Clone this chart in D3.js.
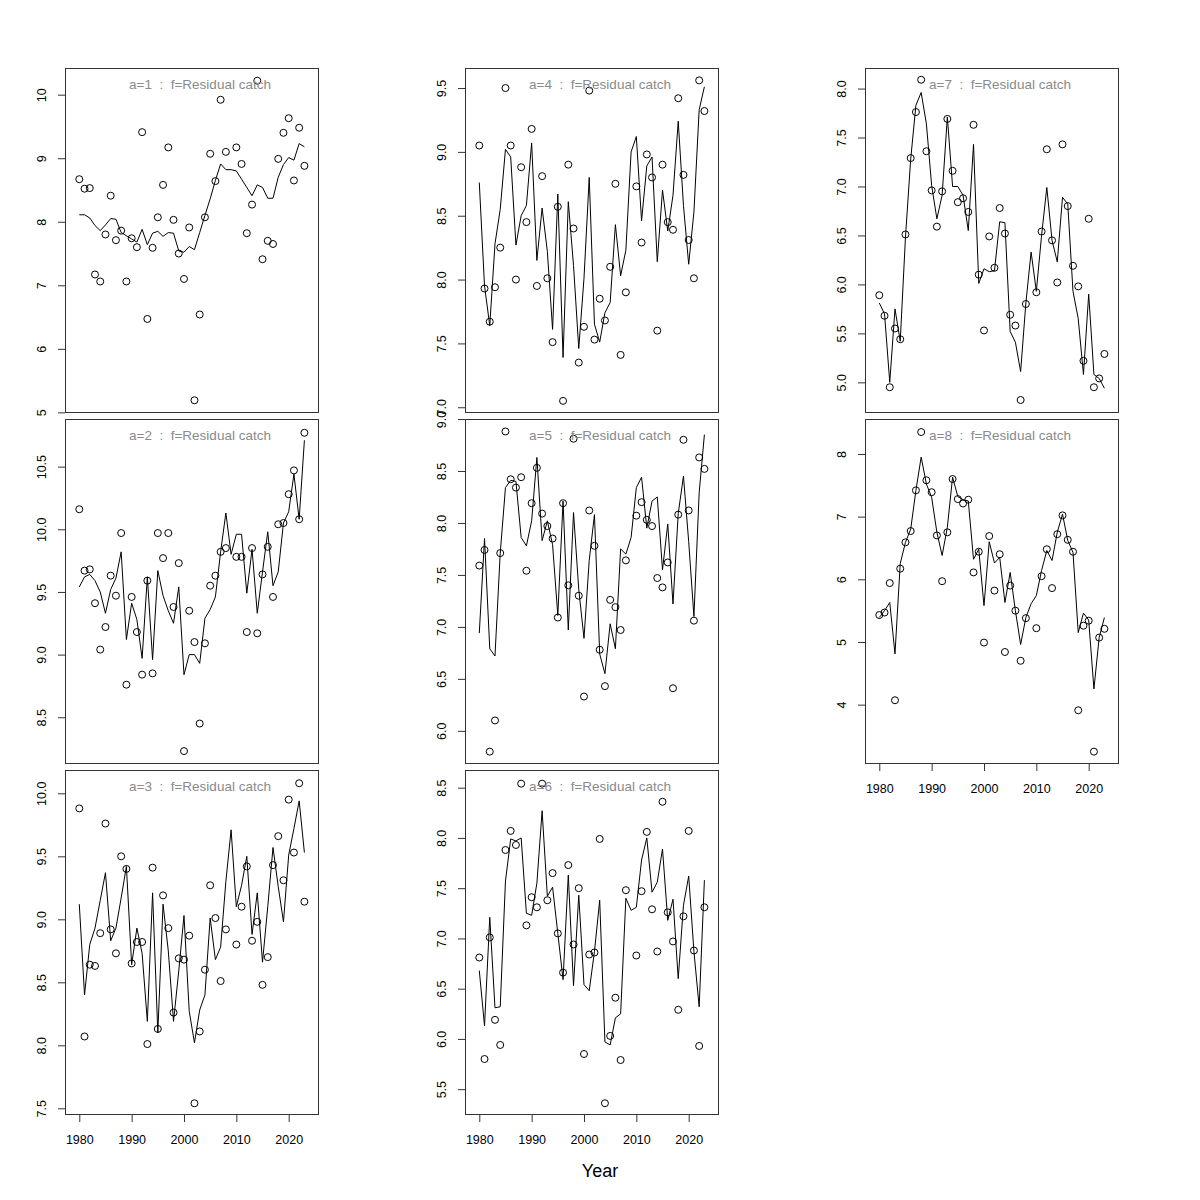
<!DOCTYPE html>
<html><head><meta charset="utf-8">
<script src="https://cdn.jsdelivr.net/npm/d3@7"></script>
<style>body{margin:0;background:#fff;} svg{display:block;font-family:"Liberation Sans",Arial,Helvetica,sans-serif;}</style>
</head><body>
<svg id="c" width="1200" height="1200"></svg>
<script>
const years = [1980,1981,1982,1983,1984,1985,1986,1987,1988,1989,1990,1991,1992,1993,1994,1995,1996,1997,1998,1999,2000,2001,2002,2003,2004,2005,2006,2007,2008,2009,2010,2011,2012,2013,2014,2015,2016,2017,2018,2019,2020,2021,2022,2023];

const obs1 = [8.67,8.52,8.53,7.17,7.06,7.80,8.41,7.71,7.86,7.06, 7.74,7.60,9.41,6.47,7.59,8.07,8.58,9.17,8.03,7.50, 7.10,7.91,5.19,6.54,8.07,9.07,8.64,9.92,9.10,null, 9.17,8.91,7.82,8.27,10.22,7.41,7.70,7.65,8.99,9.40, 9.63,8.65,9.48,8.88];
const fit1 = [8.11,8.11,8.06,7.94,7.86,7.95,8.05,8.04,7.83,7.78, 7.73,7.68,7.88,7.64,7.82,7.85,7.77,7.83,7.82,7.54, 7.52,7.61,7.56,7.83,8.10,8.36,8.65,8.91,8.82,8.82, 8.80,8.67,8.54,8.41,8.58,8.54,8.37,8.37,8.70,8.90, 9.01,8.97,9.23,9.18];

const obs2 = [10.16,9.67,9.68,9.41,9.04,9.22,9.63,9.47,9.97,8.76, 9.46,9.18,8.84,9.59,8.85,9.97,9.77,9.97,9.38,9.73, 8.23,9.35,9.10,8.45,9.09,9.55,9.63,9.82,9.85,null, 9.78,9.78,9.18,9.85,9.17,9.64,9.86,9.46,10.04,10.05, 10.28,10.47,10.08,10.77];
const fit2 = [9.54,9.62,9.64,9.59,9.50,9.33,9.52,9.61,9.82,9.12, 9.41,9.28,8.97,9.62,8.96,9.67,9.47,9.35,9.25,9.54, 8.84,9.00,9.00,8.93,9.29,9.36,9.46,9.82,10.13,9.80, 9.96,9.96,9.49,9.84,9.33,9.66,9.98,9.55,9.66,10.05, 10.14,10.44,10.08,10.71];

const obs3 = [9.88,8.07,8.64,8.63,8.89,9.76,8.92,8.73,9.50,9.40, 8.65,8.82,8.82,8.01,9.41,8.13,9.19,8.93,8.26,8.69, 8.68,8.87,7.54,8.11,8.60,9.27,9.01,8.51,8.92,null, 8.80,9.10,9.42,8.83,8.98,8.48,8.70,9.43,9.66,9.31, 9.95,9.53,10.08,9.14];
const fit3 = [9.12,8.40,8.80,8.93,9.15,9.37,8.83,8.93,9.17,9.42, 8.64,8.93,8.73,8.19,9.21,8.10,9.12,8.75,8.19,8.59, 9.03,8.27,8.02,8.28,8.40,9.01,8.68,8.78,9.30,9.71, 9.10,9.27,9.50,8.88,9.21,8.66,9.10,9.57,9.26,8.98, 9.51,9.72,9.94,9.53];

const obs4 = [9.05,7.93,7.67,7.94,8.25,9.50,9.05,8.00,8.88,8.45, 9.18,7.95,8.81,8.01,7.51,8.57,7.05,8.90,8.40,7.35, 7.63,9.48,7.53,7.85,7.68,8.10,8.75,7.41,7.90,null, 8.73,8.29,8.98,8.80,7.60,8.90,8.45,8.39,9.42,8.82, 8.31,8.01,9.56,9.32];
const fit4 = [8.76,7.95,7.64,8.28,8.55,9.02,8.96,8.27,8.50,8.58, 9.07,8.15,8.56,8.22,7.61,8.67,7.39,8.61,8.11,7.46, 8.01,8.80,7.65,7.51,7.74,7.82,8.43,8.03,8.23,9.00, 9.12,8.46,8.89,8.96,8.14,8.70,8.38,8.66,9.24,8.58, 8.12,8.53,9.33,9.51];

const obs5 = [7.59,7.74,5.80,6.10,7.71,8.88,8.42,8.34,8.44,7.54, 8.19,8.53,8.09,7.97,7.85,7.09,8.19,7.40,8.81,7.30, 6.33,8.12,7.78,6.78,6.43,7.26,7.19,6.97,7.64,null, 8.07,8.20,8.03,7.97,7.47,7.38,7.62,6.41,8.08,8.80, 8.12,7.06,8.63,8.52];
const fit5 = [6.94,7.85,6.79,6.72,7.71,8.34,8.41,8.40,7.86,7.78, 8.02,8.63,7.83,8.02,7.79,7.11,8.21,6.97,8.10,7.36, 6.89,7.64,8.08,6.74,6.55,7.03,6.79,7.75,7.70,7.86, 8.34,8.44,7.95,8.21,8.25,7.55,7.99,7.22,8.09,8.45, 7.82,7.10,8.29,8.85];

const obs6 = [6.81,5.80,7.01,6.19,5.94,7.88,8.07,7.93,8.54,7.13, 7.41,7.31,8.54,7.38,7.65,7.05,6.66,7.73,6.94,7.50, 5.85,6.84,6.86,7.99,5.36,6.03,6.41,5.79,7.48,null, 6.83,7.47,8.06,7.29,6.87,8.36,7.26,6.97,6.29,7.22, 8.07,6.88,5.93,7.31];
const fit6 = [6.68,6.13,7.21,6.31,6.32,7.57,7.99,7.97,8.00,7.25, 7.23,7.55,8.27,7.42,7.51,7.05,6.59,7.63,6.53,7.43, 6.54,6.48,6.87,7.38,5.97,5.94,6.21,6.25,7.40,7.28, 7.31,7.78,8.00,7.46,7.56,7.89,7.18,7.39,6.60,7.33, 7.62,6.87,6.32,7.58];

const obs7 = [5.89,5.68,4.95,5.55,5.44,6.51,7.29,7.76,8.09,7.36, 6.96,6.59,6.95,7.69,7.16,6.84,6.88,6.74,7.63,6.10, 5.53,6.49,6.17,6.78,6.52,5.69,5.58,4.82,5.80,null, 5.92,6.54,7.38,6.45,6.02,7.43,6.80,6.19,5.98,5.22, 6.67,4.95,5.04,5.29];
const fit7 = [5.81,5.70,5.00,5.75,5.42,6.48,7.28,7.83,7.96,7.64, 7.01,6.67,6.91,7.71,7.00,7.00,6.91,6.55,7.43,6.01, 6.16,6.13,6.14,6.64,6.63,5.52,5.41,5.11,5.81,6.33, 5.93,6.50,6.99,6.45,6.23,6.89,6.82,5.93,5.65,5.08, 5.90,5.08,5.04,4.94];

const obs8 = [5.43,5.47,5.94,4.07,6.17,6.59,6.77,7.42,8.35,7.58, 7.39,6.70,5.97,6.75,7.60,7.28,7.21,7.27,6.11,6.44, 4.99,6.69,5.82,6.40,4.84,5.90,5.50,4.70,5.38,null, 5.22,6.05,6.48,5.86,6.72,7.02,6.63,6.44,3.91,5.26, 5.34,3.25,5.07,5.21];
const fit8 = [5.39,5.50,5.63,4.81,6.25,6.59,6.80,7.42,7.95,7.52, 7.31,6.75,6.38,6.83,7.63,7.32,7.27,7.25,6.32,6.48, 5.58,6.60,6.26,6.35,5.63,6.11,5.50,4.96,5.39,5.61, 5.74,6.14,6.46,6.30,6.75,7.04,6.62,6.43,5.15,5.46, 5.35,4.25,5.07,5.39];

const panelLabels = ["a=1","a=2","a=3","a=4","a=5","a=6","a=7","a=8"];
const fleetLabel = "f=Residual catch";
const yTicks = [[5,6,7,8,9,10],[8.5,9,9.5,10,10.5],[7.5,8,8.5,9,9.5,10],[7,7.5,8,8.5,9,9.5],[6,6.5,7,7.5,8,8.5,9],[5.5,6,6.5,7,7.5,8,8.5],[5,5.5,6,6.5,7,7.5,8],[4,5,6,7,8]];
const yDomains = [[4.99,10.42],[8.127,10.88],[7.447,10.185],[6.955,9.657],[5.681,9.0],[5.243,8.676],[4.687,8.21],[3.053,8.558]];
const xTicks = [1980,1990,2000,2010,2020];
const xDomain = [1977.27,2025.79];
const xLabel = "Year";

const obsAll = [obs1,obs2,obs3,obs4,obs5,obs6,obs7,obs8];
const fitAll = [fit1,fit2,fit3,fit4,fit5,fit6,fit7,fit8];

const colLeft = [65,465,865], rowTop = [68,419,770];
const W = 254, H = 345;
const svg = d3.select("#c");

panelLabels.forEach((lab,i) => {
  const col = Math.floor(i/3), row = i%3;
  const px = colLeft[col], py = rowTop[row];
  const g = svg.append("g").attr("transform",`translate(${px},${py})`);
  const x = d3.scaleLinear().domain(xDomain).range([0,W]);
  const y = d3.scaleLinear().domain(yDomains[i]).range([H,0]);
  const intTicks = (i===0 || i===7);
  const fmt = intTicks ? d3.format("d") : d3.format(".1f");

  const data = years.map((yr,k)=>({yr, o:obsAll[i][k], f:fitAll[i][k]}));
  g.append("path").datum(data)
    .attr("d", d3.line().x(d=>x(d.yr)).y(d=>y(d.f)))
    .attr("fill","none").attr("stroke","#000").attr("stroke-width",1);
  g.selectAll("circle.pt").data(data.filter(d=>d.o!==null)).enter()
    .append("circle").attr("class","pt")
    .attr("cx",d=>x(d.yr)).attr("cy",d=>y(d.o)).attr("r",3.5)
    .attr("fill","none").attr("stroke","#000").attr("stroke-width",1);

  g.append("rect").attr("x",0.5).attr("y",0.5).attr("width",W-1).attr("height",H-1)
    .attr("fill","none").attr("stroke","#333").attr("stroke-width",1);

  const ya = g.append("g").call(d3.axisLeft(y).tickValues(yTicks[i]).tickSize(7).tickFormat(fmt));
  ya.select(".domain").remove();
  ya.selectAll(".tick line").attr("stroke","#333");
  ya.selectAll(".tick text").attr("x",null).attr("dy",null)
    .attr("transform","translate(-23,0) rotate(-90)")
    .attr("text-anchor","middle").attr("dominant-baseline","central")
    .attr("font-size",12.5).attr("fill","#000").attr("font-family","Liberation Sans, Arial, sans-serif");

  if (row===2 || i===7) {
    const xa = g.append("g").attr("transform",`translate(0,${H})`)
      .call(d3.axisBottom(x).tickValues(xTicks).tickSize(7).tickFormat(d3.format("d")));
    xa.select(".domain").remove();
    xa.selectAll(".tick line").attr("stroke","#333");
    xa.selectAll(".tick text").attr("dy",null).attr("y",25)
      .attr("dominant-baseline","central")
      .attr("font-size",12.5).attr("fill","#000").attr("font-family","Liberation Sans, Arial, sans-serif");
  }

  g.append("text").attr("x",W/2+8).attr("y",16).attr("text-anchor","middle")
    .attr("dominant-baseline","central").attr("font-size",13.5).attr("fill","#8a8a8a")
    .attr("xml:space","preserve")
    .text(`${lab}  :  ${fleetLabel}`);
});

svg.append("text").attr("x",600).attr("y",1171).attr("text-anchor","middle")
  .attr("dominant-baseline","central").attr("font-size",18).attr("fill","#000").text(xLabel);
</script>
</body></html>
